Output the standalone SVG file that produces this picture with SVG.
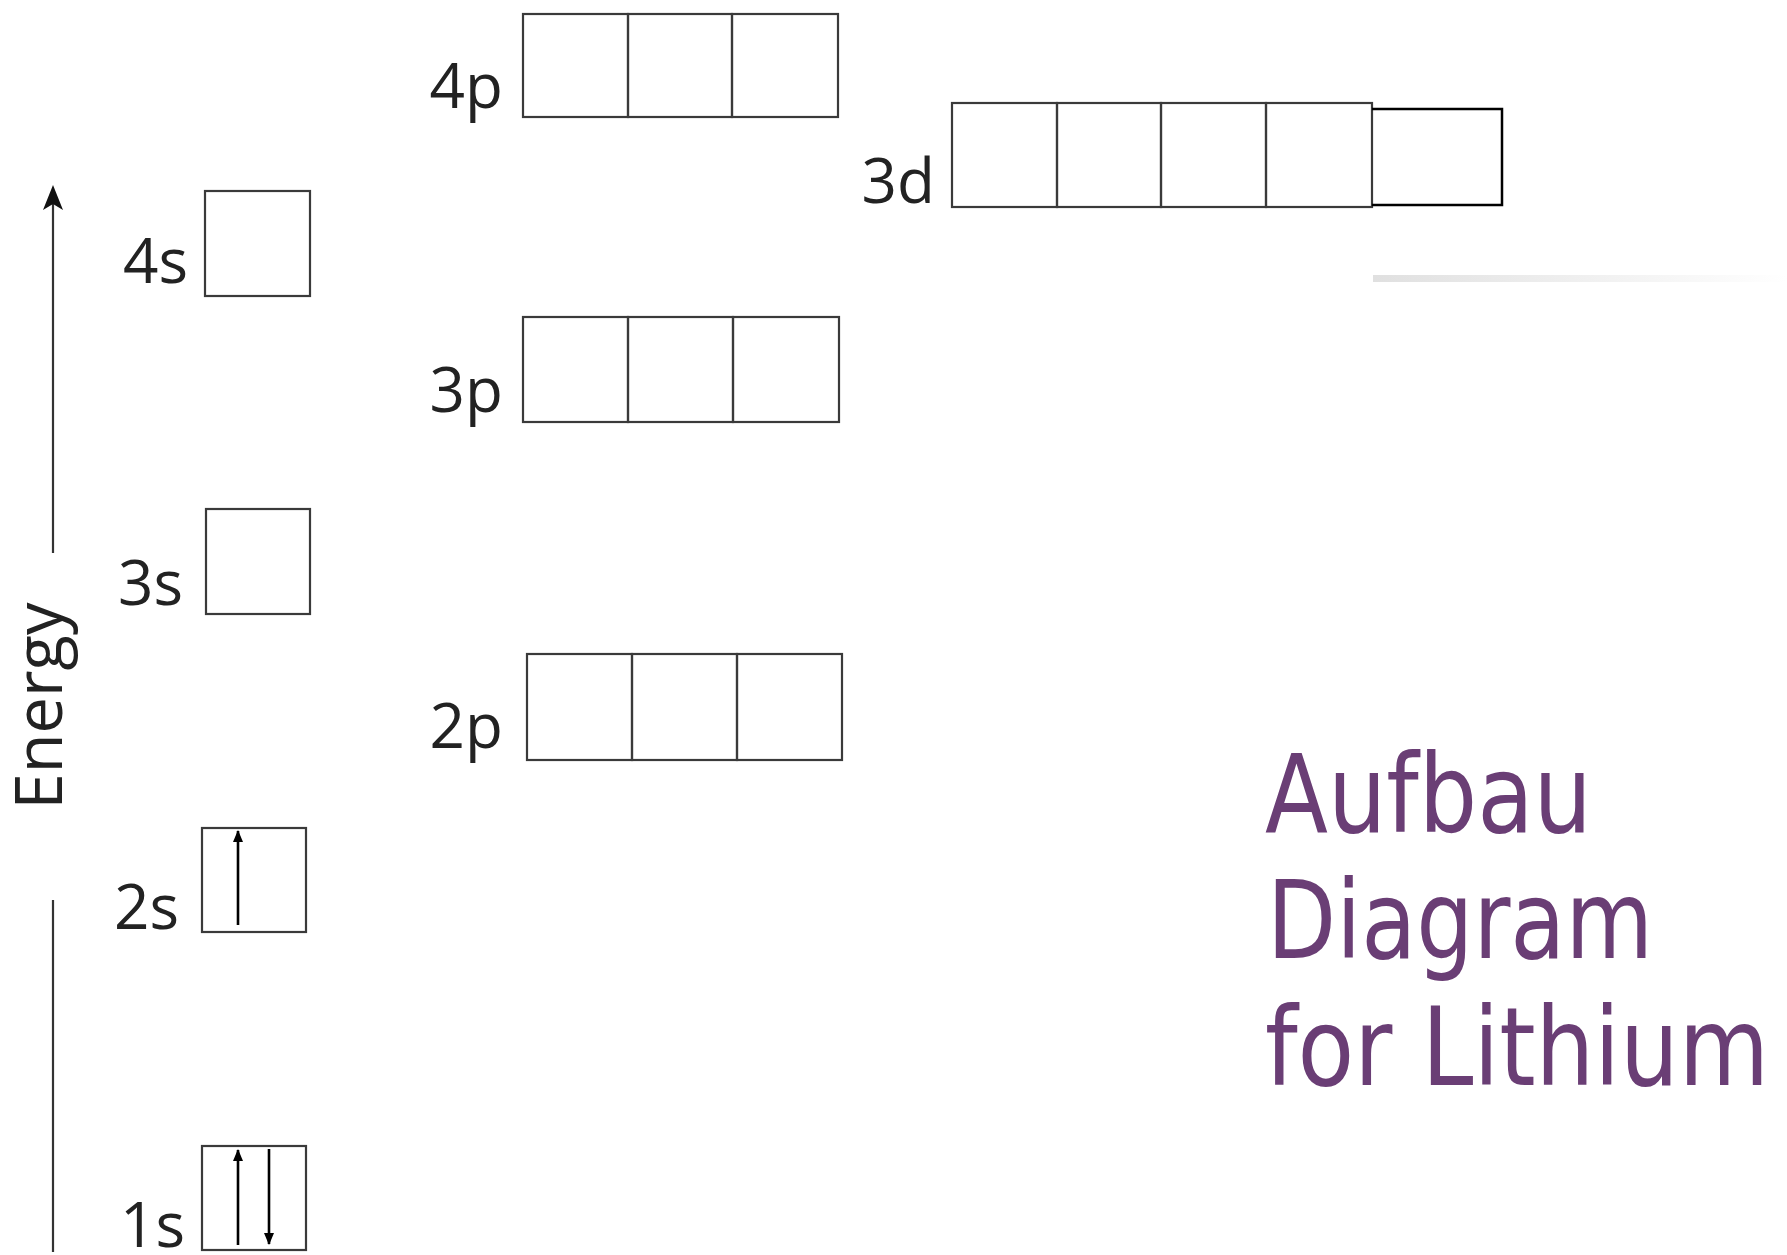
<svg xmlns="http://www.w3.org/2000/svg" width="1787" height="1255" viewBox="0 0 1787 1255">
<style>
.box{fill:none;stroke:#3a3a3a;stroke-width:2.2}
.box5{fill:none;stroke:#000;stroke-width:2.5}
.lbl{font-family:"Open Sans","Liberation Sans",sans-serif;font-size:62px;fill:#222;text-anchor:end}
.axis{stroke:#333;stroke-width:2.2;fill:none}
.e{stroke:#000;stroke-width:2.6;fill:none}
.title{font-family:"DejaVu Sans Condensed","DejaVu Sans",sans-serif;font-size:108px;fill:#6a3e75}
</style>
<defs>
<marker id="eh" viewBox="0 0 12 10" refX="11" refY="5" markerWidth="12" markerHeight="10" markerUnits="userSpaceOnUse" orient="auto">
<path d="M0,0 L12,5 L0,10 Z" fill="#000"/>
</marker>
<linearGradient id="bar" x1="0" y1="0" x2="1" y2="0">
<stop offset="0" stop-color="#e0e0e0"/>
<stop offset="1" stop-color="#ffffff"/>
</linearGradient>
</defs>
<rect width="1787" height="1255" fill="#fff"/>

<g id="axis">
<line class="axis" x1="53" y1="200" x2="53" y2="553"/>
<path d="M53,185 L63,210 L53,204 L43,210 Z" fill="#111"/>
<line class="axis" x1="53" y1="900" x2="53" y2="1252"/>
<text transform="translate(62,706) rotate(-90)" style="font-family:'Open Sans','Liberation Sans',sans-serif;font-size:65px;fill:#222;text-anchor:middle">Energy</text>
</g>

<g id="orb-4s">
<text class="lbl" x="188" y="283">4s</text>
<rect class="box" x="205" y="191" width="105" height="105"/>
</g>
<g id="orb-3s">
<text class="lbl" x="183" y="605">3s</text>
<rect class="box" x="206" y="509" width="104" height="105"/>
</g>
<g id="orb-2s">
<text class="lbl" x="179" y="929">2s</text>
<rect class="box" x="202" y="828" width="104" height="104"/>
<line class="e" x1="238" y1="925" x2="238" y2="831" marker-end="url(#eh)"/>
</g>
<g id="orb-1s">
<text class="lbl" x="185" y="1247">1s</text>
<rect class="box" x="202" y="1146" width="104" height="104"/>
<line class="e" x1="238" y1="1245" x2="238" y2="1150" marker-end="url(#eh)"/>
<line class="e" x1="269" y1="1149" x2="269" y2="1244" marker-end="url(#eh)"/>
</g>

<g id="orb-4p">
<text class="lbl" x="503" y="108">4p</text>
<rect class="box" x="523" y="14" width="105" height="103"/>
<rect class="box" x="628" y="14" width="104" height="103"/>
<rect class="box" x="732" y="14" width="106" height="103"/>
</g>
<g id="orb-3p">
<text class="lbl" x="503" y="412">3p</text>
<rect class="box" x="523" y="317" width="105" height="105"/>
<rect class="box" x="628" y="317" width="105" height="105"/>
<rect class="box" x="733" y="317" width="106" height="105"/>
</g>
<g id="orb-2p">
<text class="lbl" x="503" y="748">2p</text>
<rect class="box" x="527" y="654" width="105" height="106"/>
<rect class="box" x="632" y="654" width="105" height="106"/>
<rect class="box" x="737" y="654" width="105" height="106"/>
</g>
<g id="orb-3d">
<text class="lbl" x="935" y="203">3d</text>
<rect class="box" x="952" y="103" width="105" height="104"/>
<rect class="box" x="1057" y="103" width="104" height="104"/>
<rect class="box" x="1161" y="103" width="105" height="104"/>
<rect class="box" x="1266" y="103" width="106" height="104"/>
<path class="box5" d="M1372,109 H1502 V205 H1372"/>
</g>

<rect x="1373" y="275" width="414" height="7" fill="url(#bar)"/>

<g id="title">
<text class="title" x="1265" y="832" textLength="327" lengthAdjust="spacingAndGlyphs">Aufbau</text>
<text class="title" x="1267" y="958" textLength="386" lengthAdjust="spacingAndGlyphs">Diagram</text>
<text class="title" x="1265" y="1085" textLength="504" lengthAdjust="spacingAndGlyphs">for Lithium</text>
</g>
</svg>
